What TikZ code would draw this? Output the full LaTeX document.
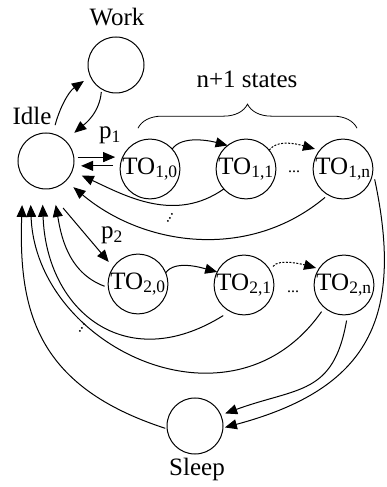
\documentclass[tikz,border=0pt]{standalone}
\usepackage{fontspec}
\setmainfont{Liberation Serif}
\usetikzlibrary{arrows.meta,decorations.pathreplacing}
\begin{document}
\begin{tikzpicture}[x=1pt,y=1pt,
  state/.style={circle,draw,line width=1pt,minimum size=56pt,inner sep=0pt,outer sep=0pt},
  lbl/.style={anchor=base,inner sep=0pt},
  arr/.style={line width=1pt,-{Triangle[length=12pt,width=10pt]}},
  dotarr/.style={arr,dash pattern=on 2pt off 1.5pt},
  smalldots/.style={inner sep=0pt,font=\fontsize{16}{16}\selectfont},
  font=\fontsize{25}{30}\selectfont]
\useasboundingbox (0,0) rectangle (386,487);
% states
\node[state] (work) at (116,422) {};
\node[lbl] (worklbl) at (117,461) {Work};
\node[state] (idle) at (46,326) {};
\node[lbl] (idlelbl) at (32,362) {Idle};
\node[state] (to10) at (150,318) {TO\textsubscript{1,0}};
\node[state] (to11) at (246,318) {TO\textsubscript{1,1}};
\node[state] (to1n) at (343,318) {TO\textsubscript{1,n}};
\node[state] (to20) at (138,203) {TO\textsubscript{2,0}};
\node[state] (to21) at (244,202) {TO\textsubscript{2,1}};
\node[state] (to2n) at (344,202) {TO\textsubscript{2,n}};
\node[state] (sleep) at (195,61) {};
\node[lbl] (sleeplbl) at (197,11) {Sleep};
\node[lbl] (states) at (247,399) {n+1 states};
\node[lbl] (p1) at (110,348) {p\textsubscript{1}};
\node[lbl] (p2) at (112,248) {p\textsubscript{2}};
\node[smalldots] (dots1) at (294,315) {...};
\node[smalldots] (dots2) at (293,195) {...};
\node[smalldots,rotate=60] (vd1) at (170,269) {...};
\node[smalldots,rotate=60] (vd2) at (82,159) {...};
% brace
\draw[line width=0.8pt,decorate,decoration={brace,amplitude=24pt}]
  ([shift={(-12pt,11pt)}]to10.north) -- ([shift={(14pt,11pt)}]to1n.north);
% Idle <-> Work
\draw[arr,shorten <=9pt,shorten >=8pt] (idle.76) to[out=75,in=215] (work.204);
\draw[arr,shorten <=3pt,shorten >=12pt] (work.239) to[out=265,in=40] (idle.47);
% Idle <-> TO10
\draw[arr,shorten <=4pt,shorten >=5pt] (idle.8) -- (idle.8 -| to10.west);
\draw[arr,shorten <=7pt,shorten >=7.5pt] (to10.west |- idle.-10) -- (idle.-10);
% Idle -> TO20
\draw[arr,shorten <=25pt,shorten >=7pt] (idle.272) -- (to20.146);
% chain row 1
\draw[arr,looseness=0.8] (to10.42) to[out=55,in=165] (to11.128);
\draw[dotarr,looseness=0.8,shorten >=5pt] (to11.39) to[out=55,in=165] (to1n.141);
% chain row 2
\draw[arr,looseness=0.8] (to20.22) to[out=55,in=165] (to21.154);
\draw[dotarr,looseness=0.8,shorten <=5pt,shorten >=3pt] (to21.29) to[out=55,in=165] (to2n.147);
% returns to Idle from row 1
\draw[arr,shorten >=10.6pt] (to11.222) to[out=215,in=-25] (idle.339);
\draw[arr,shorten <=4pt,shorten >=10pt] (to1n.240) to[out=220,in=-40] (idle.315);
% returns to Idle from row 2 and Sleep
\draw[arr,shorten <=4pt,shorten >=17pt] (to20.187) to[out=160,in=-80] (idle.284);
\draw[arr,looseness=1.4,shorten <=8pt,shorten >=16pt] (to21.242) to[out=212,in=-88] (idle.262);
\draw[arr,looseness=1.3,shorten <=5pt,shorten >=21pt] (to2n.229) to[out=235,in=-88] (idle.235);
\draw[arr,looseness=1.2,shorten <=2pt,shorten >=28pt] (sleep.186) to[out=162,in=-92] (idle.215);
% to Sleep
\draw[arr,looseness=1.3,shorten <=6pt,shorten >=4.7pt] (to2n.-83) to[out=-100,in=20] (sleep.23);
\draw[arr,looseness=1.3,shorten <=9pt,shorten >=2pt] (to1n.-3) to[out=-78,in=15] (sleep.-4);
\end{tikzpicture}
\end{document}
